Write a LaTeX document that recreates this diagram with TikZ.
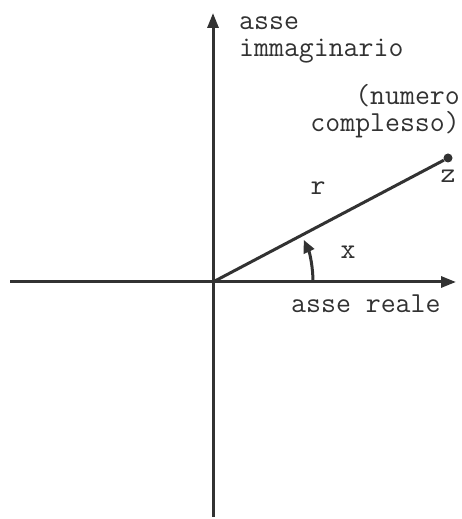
\documentclass[tikz,border=0pt]{standalone}
\usepackage{fontspec}
\usetikzlibrary{%
	arrows.meta,%
	calc,%
	positioning,%
}
\definecolor{cink}{RGB}{50, 50, 50}
\tikzset{
	>={Triangle[length=15pt,width=11pt]},%
	axis/.style={%
			draw=cink,%
			line width=3pt},%
	lbl/.style={%
			font={\ttfamily\fontsize{29}{27}\selectfont},%
			text=cink,%
			inner sep=0pt},%
	dot/.style={%
			circle,%
			fill=cink,%
			inner sep=0pt,%
			minimum size=9pt},%
}

\begin{document}
\begin{tikzpicture}[x=1pt, y=1pt]%
	\useasboundingbox (0,0) rectangle (462,519);

	\coordinate (o) at (213,237);
	\coordinate (nord) at (213,506);
	\coordinate (sud) at (213,2);
	\coordinate (ovest) at (10,237);
	\coordinate (est) at (456,237);

	\node[dot] (z) at (448,361) {};

	\draw[axis, ->] (sud) -- (nord);
	\draw[axis, ->] (ovest) -- (est);
	\draw[axis] (o) -- (z);
	\draw[axis, -{Triangle[length=13pt,width=11pt]}] ($(o)+(0:100)$) arc[start angle=0, end angle=25, radius=100];

	\node[lbl, anchor=base west, align=left] (imm) at (239,462) {asse\\immaginario};
	\node[lbl, anchor=base east, align=right] (num) at (460,387) {(numero\\complesso)};
	\node[lbl, anchor=base west] (reale) at (291,206) {asse reale};
	\node[lbl, below=7pt of z] (zl) {z};
	\node[lbl] (rl) at (318,331) {r};
	\node[lbl] (xl) at (348,267) {x};
\end{tikzpicture}
\end{document}
